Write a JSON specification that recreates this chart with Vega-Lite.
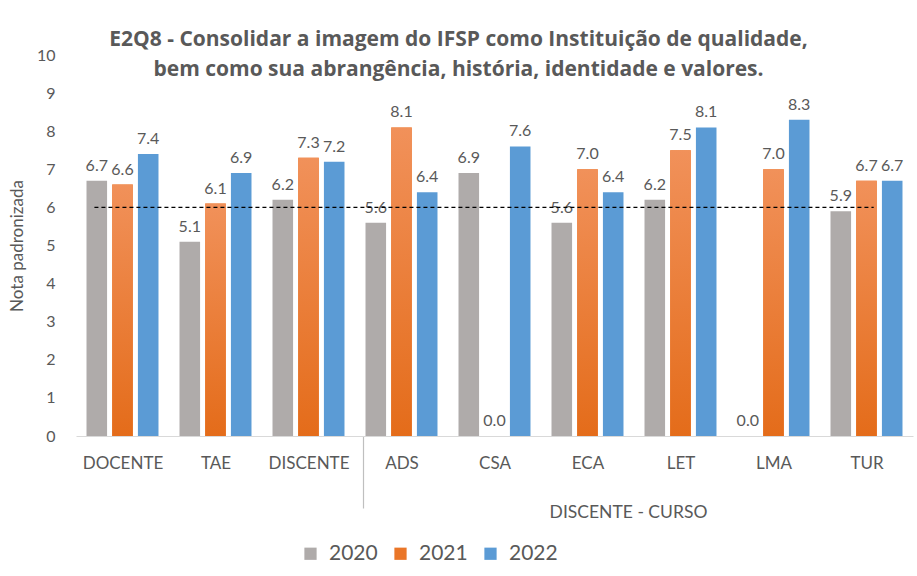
{
  "$schema": "https://vega.github.io/schema/vega-lite/v6.json",
  "width": 837,
  "height": 381,
  "autosize": {"type": "none"},
  "padding": {"left": 76, "top": 55, "right": 4, "bottom": 140},
  "background": "white",
  "config": {
    "font": "Lato",
    "view": {"stroke": null},
    "axis": {"labelColor": "#595959", "titleColor": "#595959", "labelFont": "Lato", "titleFont": "Lato"}
  },
  "title": {
    "text": ["E2Q8 - Consolidar a imagem do IFSP como Instituição de qualidade,", "bem como sua abrangência, história, identidade e valores."],
    "anchor": "middle",
    "frame": "group",
    "dx": -36,
    "offset": -33,
    "fontSize": 21,
    "fontWeight": "bold",
    "color": "#595959",
    "lineHeight": 30,
    "font": "Open Sans"
  },
  "datasets": {
    "scores": [
      {"cat": "DOCENTE", "year": "2020", "value": 6.7},
      {"cat": "DOCENTE", "year": "2021", "value": 6.6},
      {"cat": "DOCENTE", "year": "2022", "value": 7.4},
      {"cat": "TAE", "year": "2020", "value": 5.1},
      {"cat": "TAE", "year": "2021", "value": 6.1},
      {"cat": "TAE", "year": "2022", "value": 6.9},
      {"cat": "DISCENTE", "year": "2020", "value": 6.2},
      {"cat": "DISCENTE", "year": "2021", "value": 7.3},
      {"cat": "DISCENTE", "year": "2022", "value": 7.2},
      {"cat": "ADS", "year": "2020", "value": 5.6},
      {"cat": "ADS", "year": "2021", "value": 8.1},
      {"cat": "ADS", "year": "2022", "value": 6.4},
      {"cat": "CSA", "year": "2020", "value": 6.9},
      {"cat": "CSA", "year": "2021", "value": 0.0},
      {"cat": "CSA", "year": "2022", "value": 7.6},
      {"cat": "ECA", "year": "2020", "value": 5.6},
      {"cat": "ECA", "year": "2021", "value": 7.0},
      {"cat": "ECA", "year": "2022", "value": 6.4},
      {"cat": "LET", "year": "2020", "value": 6.2},
      {"cat": "LET", "year": "2021", "value": 7.5},
      {"cat": "LET", "year": "2022", "value": 8.1},
      {"cat": "LMA", "year": "2020", "value": 0.0},
      {"cat": "LMA", "year": "2021", "value": 7.0},
      {"cat": "LMA", "year": "2022", "value": 8.3},
      {"cat": "TUR", "year": "2020", "value": 5.9},
      {"cat": "TUR", "year": "2021", "value": 6.7},
      {"cat": "TUR", "year": "2022", "value": 6.7}
    ],
    "reference": [{"target": 6}]
  },
  "data": {"name": "scores"},
  "encoding": {
    "x": {
      "field": "cat",
      "type": "nominal",
      "sort": ["DOCENTE", "TAE", "DISCENTE", "ADS", "CSA", "ECA", "LET", "LMA", "TUR"],
      "scale": {"domain": ["DOCENTE", "TAE", "DISCENTE", "ADS", "CSA", "ECA", "LET", "LMA", "TUR"], "paddingInner": 0.226, "paddingOuter": 0.113},
      "axis": {
        "title": "DISCENTE - CURSO",
        "titleX": 552,
        "titleY": 76,
        "titleBaseline": "middle",
        "titleFontSize": 17.5,
        "titleFontWeight": "normal",
        "labelAngle": 0,
        "labelFontSize": 17,
        "labelPadding": -53,
        "labelOffset": 39,
        "ticks": true,
        "tickBand": "center",
        "tickSize": 72,
        "tickOffset": -39,
        "tickColor": "#bfbfbf",
        "tickWidth": 1.2,
        "tickOpacity": {"condition": {"test": "datum.value === 'ADS'", "value": 1}, "value": 0},
        "domainColor": "#d9d9d9",
        "domainWidth": 1.2
      }
    },
    "y": {
      "field": "value",
      "type": "quantitative",
      "scale": {"domain": [0, 10], "nice": false, "zero": true},
      "axis": {"title": "Nota padronizada", "values": [0,1,2,3,4,5,6,7,8,9,10], "grid": false, "domain": false, "ticks": false, "labelFontSize": 16, "labelPadding": 21, "titleFontSize": 17, "titleFontWeight": "normal", "titlePadding": 10}
    }
  },
  "layer": [
    {
      "mark": {"type": "bar"},
      "encoding": {
        "xOffset": {"field": "year", "type": "nominal", "scale": {"paddingInner": 0.2}},
        "color": {
          "field": "year",
          "type": "nominal",
          "scale": {"domain": ["2020", "2021", "2022"], "range": ["#afabaa", "#ea7628", "#5b9bd5"]},
          "legend": {
            "title": null,
            "orient": "none",
            "direction": "horizontal",
            "legendX": 224,
            "legendY": 488,
            "symbolType": "square",
            "symbolSize": 150,
            "symbolStrokeWidth": 0,
            "labelFontSize": 21,
            "labelColor": "#595959",
            "labelOffset": 8,
            "columnPadding": 12,
            "labelFont": "Lato"
          }
        }
      }
    },
    {
      "transform": [{"filter": "datum.year == '2021'"}],
      "mark": {
        "type": "bar",
        "fill": {"gradient": "linear", "x1": 0, "y1": 0, "x2": 0, "y2": 1, "stops": [{"offset": 0, "color": "#f1915a"}, {"offset": 1, "color": "#e46c1a"}]}
      },
      "encoding": {
        "xOffset": {"field": "year", "type": "nominal"}
      }
    },
    {
      "mark": {"type": "text", "baseline": "bottom", "dy": -7, "fontSize": 16, "color": "#595959", "font": "Lato"},
      "encoding": {
        "xOffset": {"field": "year", "type": "nominal"},
        "text": {"field": "value", "type": "quantitative", "format": ".1f"}
      }
    },
    {
      "data": {"name": "reference"},
      "mark": {"type": "rule", "color": "#000000", "strokeDash": [4, 3], "strokeWidth": 1.3},
      "encoding": {
        "x": {"datum": "DOCENTE", "bandPosition": 0.11},
        "x2": {"datum": "TUR", "bandPosition": 0.6},
        "y": {"field": "target", "type": "quantitative"}
      }
    }
  ]
}
